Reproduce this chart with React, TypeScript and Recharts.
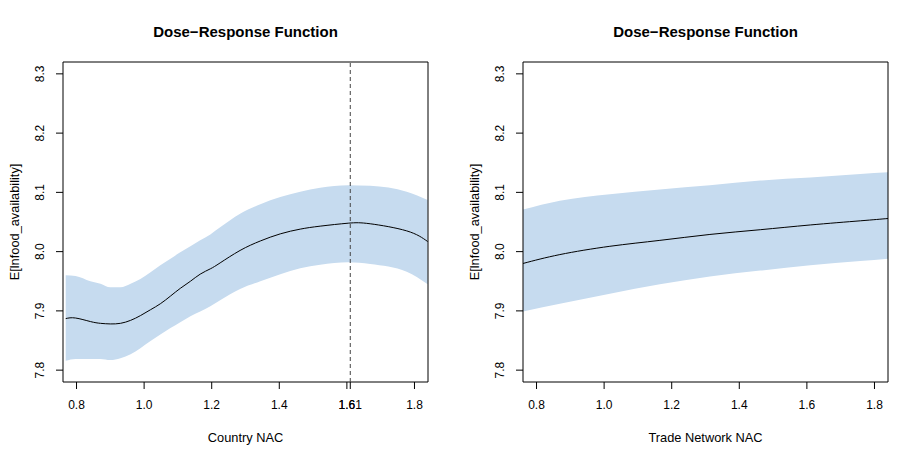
import React from 'react';
import {
  ComposedChart, Area, Line, XAxis, YAxis, ReferenceLine, ReferenceArea,
} from 'recharts';

// ---- Left panel: Country NAC ----
const countryX = [0.768, 0.797, 0.841, 0.871, 0.900, 0.930, 0.960, 0.989, 1.019, 1.048, 1.078, 1.107, 1.137, 1.166, 1.196, 1.225, 1.284, 1.344, 1.403, 1.462, 1.521, 1.604, 1.669, 1.777, 1.839];
const countryMid = [7.887, 7.888, 7.882, 7.879, 7.878, 7.879, 7.884, 7.892, 7.902, 7.912, 7.925, 7.938, 7.950, 7.962, 7.971, 7.981, 8.002, 8.018, 8.030, 8.038, 8.043, 8.048, 8.047, 8.035, 8.017];
const countryHi = [7.960, 7.959, 7.950, 7.946, 7.940, 7.940, 7.946, 7.954, 7.965, 7.977, 7.988, 7.999, 8.009, 8.019, 8.029, 8.041, 8.064, 8.080, 8.092, 8.101, 8.108, 8.112, 8.111, 8.101, 8.087];
const countryLo = [7.816, 7.819, 7.819, 7.819, 7.817, 7.820, 7.827, 7.837, 7.849, 7.860, 7.871, 7.881, 7.891, 7.899, 7.908, 7.918, 7.937, 7.950, 7.962, 7.972, 7.978, 7.982, 7.979, 7.966, 7.945];
const countryMarker = 1.61;

// ---- Right panel: Trade Network NAC ----
const tradeX = [0.76, 0.869, 1.017, 1.165, 1.313, 1.462, 1.610, 1.758, 1.842];
const tradeMid = [7.980, 7.995, 8.009, 8.019, 8.029, 8.037, 8.045, 8.052, 8.056];
const tradeHi = [8.071, 8.086, 8.097, 8.105, 8.112, 8.120, 8.125, 8.131, 8.134];
const tradeLo = [7.899, 7.912, 7.929, 7.945, 7.958, 7.968, 7.977, 7.984, 7.988];

const xTicks = [0.8, 1.0, 1.2, 1.4, 1.6, 1.8];
const yTicks = [7.8, 7.9, 8.0, 8.1, 8.2, 8.3];
const xDomain = [0.76, 1.84];
const yDomain = [7.78, 8.32];

const titleText = 'Dose\u2212Response Function';
const yLabelText = 'E[lnfood_availability]';
const leftXLabel = 'Country NAC';
const rightXLabel = 'Trade Network NAC';

const FONT = '"Liberation Sans", Arial, Helvetica, sans-serif';
const BAND = '#c6dbef';

function build(xs: number[], mid: number[], lo: number[], hi: number[]) {
  return xs.map((x, i) => ({ x, mid: mid[i], band: [lo[i], hi[i]] }));
}

const YTick = (props: any) => {
  const { x, y, payload } = props;
  const cx = x - 14;
  return (
    <text x={cx} y={y} transform={`rotate(-90, ${cx}, ${y})`} textAnchor="middle"
      dominantBaseline="central" fontSize={12} fill="#000" fontFamily={FONT}>
      {Number(payload.value).toFixed(1)}
    </text>
  );
};

const fmtX = (v: number) => (Math.abs(v - 1.61) < 1e-9 ? '1.61' : v.toFixed(1));

function Panel({ data, marker }: { data: any[]; marker?: number }) {
  const ticks = marker !== undefined ? [...xTicks.slice(0, 5), marker, xTicks[5]] : xTicks;
  return (
    <ComposedChart width={460} height={460} data={data}
      margin={{ top: 62, right: 32, bottom: 0, left: 0 }}>
      <XAxis type="number" dataKey="x" domain={xDomain} ticks={ticks} interval={0}
        allowDataOverflow height={78} tickSize={7} tickMargin={11}
        axisLine={false} tickLine={{ stroke: '#000' }}
        tick={{ fontSize: 12, fill: '#000', fontFamily: FONT }} tickFormatter={fmtX} />
      <YAxis type="number" domain={yDomain} ticks={yTicks} interval={0}
        allowDataOverflow width={63} tickSize={7} tickMargin={2}
        axisLine={false} tickLine={{ stroke: '#000' }} tick={<YTick />} />
      <Area type="monotone" dataKey="band" stroke="none" fill={BAND} fillOpacity={1}
        isAnimationActive={false} />
      <Line type="natural" dataKey="mid" stroke="#000" strokeWidth={1} dot={false}
        isAnimationActive={false} />
      {marker !== undefined && (
        <ReferenceLine x={marker} stroke="#444" strokeWidth={1} strokeDasharray="4 3" />
      )}
      <ReferenceArea x1={xDomain[0]} x2={xDomain[1]} y1={yDomain[0]} y2={yDomain[1]}
        fill="none" fillOpacity={0} stroke="#000" strokeWidth={1} ifOverflow="extendDomain" />
    </ComposedChart>
  );
}

export default function App() {
  const left = build(countryX, countryMid, countryLo, countryHi);
  const right = build(tradeX, tradeMid, tradeLo, tradeHi);
  return (
    <div style={{ position: 'absolute', left: 0, top: 0, width: 920, height: 460,
      background: '#fff', fontFamily: FONT }}>
      <div style={{ position: 'absolute', left: 0, top: 0 }}>
        <Panel data={left} marker={countryMarker} />
      </div>
      <div style={{ position: 'absolute', left: 460, top: 0 }}>
        <Panel data={right} />
      </div>
      <svg width={920} height={460} style={{ position: 'absolute', left: 0, top: 0, pointerEvents: 'none' }}>
        <g fontFamily={FONT} fill="#000">
          <text x={245.5} y={31} textAnchor="middle" dominantBaseline="central" fontSize={15} fontWeight="bold">{titleText}</text>
          <text x={705.5} y={31} textAnchor="middle" dominantBaseline="central" fontSize={15} fontWeight="bold">{titleText}</text>
          <text x={245.5} y={437} textAnchor="middle" dominantBaseline="central" fontSize={12.8}>{leftXLabel}</text>
          <text x={705.5} y={437} textAnchor="middle" dominantBaseline="central" fontSize={12.8}>{rightXLabel}</text>
          <text x={14} y={222} transform="rotate(-90, 14, 222)" textAnchor="middle" dominantBaseline="central" fontSize={12.8}>{yLabelText}</text>
          <text x={474} y={222} transform="rotate(-90, 474, 222)" textAnchor="middle" dominantBaseline="central" fontSize={12.8}>{yLabelText}</text>
        </g>
      </svg>
    </div>
  );
}
